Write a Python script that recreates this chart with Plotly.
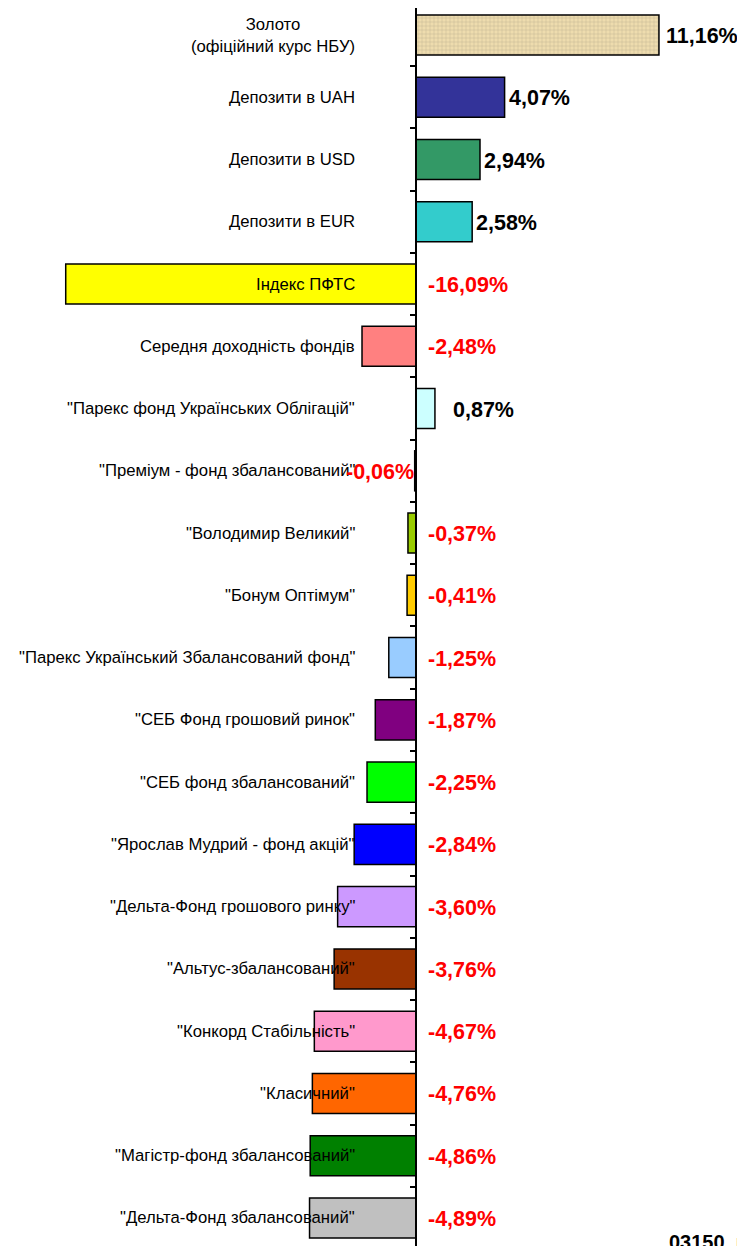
import plotly.graph_objects as go

categories = [
    "Золото<br>(офіційний курс НБУ)",
    "Депозити в UAH",
    "Депозити в USD",
    "Депозити в EUR",
    "Індекс ПФТС",
    "Середня доходність фондів",
    "\"Парекс фонд Українських Облігацій\"",
    "\"Преміум - фонд збалансований\"",
    "\"Володимир Великий\"",
    "\"Бонум Оптімум\"",
    "\"Парекс Український Збалансований фонд\"",
    "\"СЕБ Фонд грошовий ринок\"",
    "\"СЕБ фонд збалансований\"",
    "\"Ярослав Мудрий - фонд акцій\"",
    "\"Дельта-Фонд грошового ринку\"",
    "\"Альтус-збалансований\"",
    "\"Конкорд Стабільність\"",
    "\"Класичний\"",
    "\"Магістр-фонд збалансований\"",
    "\"Дельта-Фонд збалансований\"",
]

values = [11.16, 4.07, 2.94, 2.58, -16.09, -2.48, 0.87, -0.06, -0.37, -0.41,
          -1.25, -1.87, -2.25, -2.84, -3.60, -3.76, -4.67, -4.76, -4.86, -4.89]

colors = ["#EEDCAE", "#333399", "#339966", "#33CCCC", "#FFFF00", "#FF8080",
          "#CCFFFF", "#000000", "#99CC00", "#FFCC00", "#99CCFF", "#800080",
          "#00FF00", "#0000FF", "#CC99FF", "#993300", "#FF99CC", "#FF6600",
          "#008000", "#C0C0C0"]

footer_text = "03150, м. Київ"

FONT = "Liberation Sans, Arial, sans-serif"

n = len(categories)
ypos = list(range(n))

# page offset of the figure (default body margin)
OFF = 8
W, H = 745 - OFF, 1246 - OFF
zero_px = 416 - OFF
px_per_unit = 21.77
row_px = 62.26
first_center_px = 35 - OFF

x_range = [-zero_px / px_per_unit, (W - zero_px) / px_per_unit]
y_top = -first_center_px / row_px
y_bot = (H - first_center_px) / row_px

fig = go.Figure()

fig.add_trace(go.Bar(
    x=values,
    y=ypos,
    orientation="h",
    marker=dict(color=colors, line=dict(color="black", width=1.5),
                pattern=dict(shape=["+" if i == 0 else "" for i in range(n)],
                             fgcolor="#DEC797", bgcolor="#EEDCAE",
                             size=4, solidity=0.12, fillmode="overlay")),
    hoverinfo="skip",
    showlegend=False,
))

annotations = []
# category labels
for i, c in enumerate(categories):
    annotations.append(dict(
        x=0, y=i, xref="x", yref="y", text=c, showarrow=False,
        xanchor="right", yanchor="middle", align="center", xshift=-59,
        font=dict(family=FONT, size=16.7, color="black"),
    ))

# value labels
special_shift = {"11,16%": 5, "0,87%": 16}
for i, v in enumerate(values):
    t = f"{v:.2f}".replace(".", ",") + "%"
    col = "black" if v > 0 else "#FF0000"
    if v > 0:
        ax, anchor, shift = v, "left", special_shift.get(t, 2)
    elif v > -0.1:
        ax, anchor, shift = 0, "right", 0
    else:
        ax, anchor, shift = 0, "left", 10
    annotations.append(dict(
        x=ax, y=i, xref="x", yref="y", text=f"<b>{t}</b>", showarrow=False,
        xanchor=anchor, yanchor="middle", xshift=shift, yshift=-1,
        font=dict(family=FONT, size=21.5, color=col),
    ))

annotations.append(dict(
    x=(667 - OFF) / W, y=1 - (1229 - OFF) / H, xref="paper", yref="paper",
    text=f"<b>{footer_text}</b>", showarrow=False, xanchor="left", yanchor="top",
    font=dict(family=FONT, size=20, color="black"),
))

fig.update_layout(
    width=W, height=H,
    margin=dict(l=0, r=0, t=0, b=0),
    paper_bgcolor="white", plot_bgcolor="white",
    bargap=0.357,
    annotations=annotations,
    xaxis=dict(range=x_range, visible=False, fixedrange=True),
    yaxis=dict(
        range=[y_bot, y_top], anchor="free", position=zero_px / W,
        showline=True, linecolor="black", linewidth=1.5,
        ticks="outside", ticklen=5, tickwidth=1.5, tickcolor="black",
        tickvals=[i - 0.5 for i in range(n + 1)],
        showticklabels=False, showgrid=False, zeroline=False, fixedrange=True,
    ),
)

fig.write_html("out.html")
